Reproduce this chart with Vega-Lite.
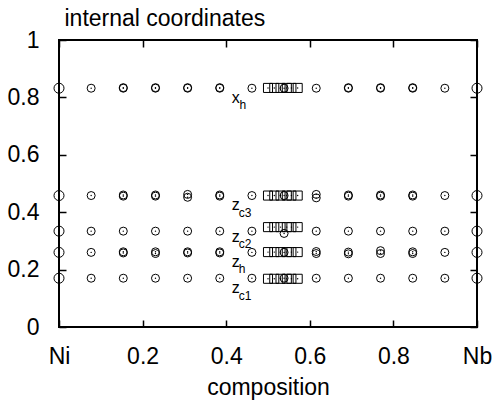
{
  "$schema": "https://vega.github.io/schema/vega-lite/v6.json",
  "width": 418,
  "height": 287,
  "autosize": {"type": "none"},
  "padding": {"left": 59, "top": 40, "right": 17, "bottom": 78},
  "background": "white",
  "config": {
    "view": {"stroke": "black", "strokeWidth": 2},
    "font": "Liberation Sans",
    "axis": {"grid": false, "domain": false, "tickColor": "black", "tickWidth": 1.5, "labelColor": "black", "titleColor": "black", "titleFontWeight": "normal", "labelOverlap": false}
  },
  "datasets": {
    "pts": [
      {"c": 0, "v": 0.832, "s": "end"}, {"c": 1, "v": 0.832, "s": "end"},
      {"c": 0, "v": 0.458, "s": "end"}, {"c": 1, "v": 0.458, "s": "end"},
      {"c": 0, "v": 0.334, "s": "end"}, {"c": 1, "v": 0.334, "s": "end"},
      {"c": 0, "v": 0.260, "s": "end"}, {"c": 1, "v": 0.260, "s": "end"},
      {"c": 0, "v": 0.170, "s": "end"}, {"c": 1, "v": 0.170, "s": "end"},

      {"c": 0.0769, "v": 0.832, "s": "circle"}, {"c": 0.1538, "v": 0.832, "s": "circle"}, {"c": 0.1538, "v": 0.834, "s": "circle"},
      {"c": 0.2308, "v": 0.832, "s": "circle"}, {"c": 0.2308, "v": 0.834, "s": "circle"},
      {"c": 0.3077, "v": 0.832, "s": "circle"}, {"c": 0.3077, "v": 0.834, "s": "circle"},
      {"c": 0.3846, "v": 0.832, "s": "circle"}, {"c": 0.3846, "v": 0.834, "s": "circle"},
      {"c": 0.4615, "v": 0.832, "s": "circle"}, {"c": 0.5385, "v": 0.832, "s": "circle"},
      {"c": 0.6154, "v": 0.832, "s": "circle"}, {"c": 0.6923, "v": 0.832, "s": "circle"}, {"c": 0.6923, "v": 0.834, "s": "circle"},
      {"c": 0.7692, "v": 0.832, "s": "circle"}, {"c": 0.7692, "v": 0.834, "s": "circle"},
      {"c": 0.8462, "v": 0.832, "s": "circle"}, {"c": 0.8462, "v": 0.834, "s": "circle"},
      {"c": 0.9231, "v": 0.832, "s": "circle"},

      {"c": 0.0769, "v": 0.458, "s": "circle"}, {"c": 0.1538, "v": 0.456, "s": "circle"}, {"c": 0.1538, "v": 0.460, "s": "circle"},
      {"c": 0.2308, "v": 0.456, "s": "circle"}, {"c": 0.2308, "v": 0.460, "s": "circle"},
      {"c": 0.3077, "v": 0.452, "s": "circle"}, {"c": 0.3077, "v": 0.462, "s": "circle"},
      {"c": 0.3846, "v": 0.456, "s": "circle"}, {"c": 0.3846, "v": 0.460, "s": "circle"},
      {"c": 0.4615, "v": 0.458, "s": "circle"}, {"c": 0.5385, "v": 0.458, "s": "circle"},
      {"c": 0.6154, "v": 0.450, "s": "circle"}, {"c": 0.6154, "v": 0.462, "s": "circle"},
      {"c": 0.6923, "v": 0.456, "s": "circle"}, {"c": 0.6923, "v": 0.460, "s": "circle"},
      {"c": 0.7692, "v": 0.456, "s": "circle"}, {"c": 0.7692, "v": 0.460, "s": "circle"},
      {"c": 0.8462, "v": 0.456, "s": "circle"}, {"c": 0.8462, "v": 0.460, "s": "circle"},
      {"c": 0.9231, "v": 0.458, "s": "circle"},

      {"c": 0.0769, "v": 0.334, "s": "circle"}, {"c": 0.1538, "v": 0.334, "s": "circle"},
      {"c": 0.2308, "v": 0.334, "s": "circle"}, {"c": 0.3077, "v": 0.334, "s": "circle"},
      {"c": 0.3846, "v": 0.334, "s": "circle"}, {"c": 0.4615, "v": 0.334, "s": "circle"},
      {"c": 0.5385, "v": 0.326, "s": "circle"}, {"c": 0.6154, "v": 0.334, "s": "circle"},
      {"c": 0.6923, "v": 0.334, "s": "circle"}, {"c": 0.7692, "v": 0.334, "s": "circle"},
      {"c": 0.8462, "v": 0.334, "s": "circle"}, {"c": 0.9231, "v": 0.334, "s": "circle"},

      {"c": 0.0769, "v": 0.260, "s": "circle"}, {"c": 0.1538, "v": 0.258, "s": "circle"}, {"c": 0.1538, "v": 0.262, "s": "circle"},
      {"c": 0.2308, "v": 0.256, "s": "circle"}, {"c": 0.2308, "v": 0.262, "s": "circle"},
      {"c": 0.3077, "v": 0.258, "s": "circle"}, {"c": 0.3077, "v": 0.262, "s": "circle"},
      {"c": 0.3846, "v": 0.258, "s": "circle"}, {"c": 0.3846, "v": 0.262, "s": "circle"},
      {"c": 0.4615, "v": 0.260, "s": "circle"}, {"c": 0.5385, "v": 0.260, "s": "circle"},
      {"c": 0.6154, "v": 0.256, "s": "circle"}, {"c": 0.6154, "v": 0.263, "s": "circle"},
      {"c": 0.6923, "v": 0.255, "s": "circle"}, {"c": 0.6923, "v": 0.261, "s": "circle"},
      {"c": 0.7692, "v": 0.256, "s": "circle"}, {"c": 0.7692, "v": 0.266, "s": "circle"},
      {"c": 0.8462, "v": 0.256, "s": "circle"}, {"c": 0.8462, "v": 0.262, "s": "circle"},
      {"c": 0.9231, "v": 0.260, "s": "circle"},

      {"c": 0.0769, "v": 0.170, "s": "circle"}, {"c": 0.1538, "v": 0.170, "s": "circle"},
      {"c": 0.2308, "v": 0.170, "s": "circle"}, {"c": 0.3077, "v": 0.170, "s": "circle"},
      {"c": 0.3846, "v": 0.170, "s": "circle"}, {"c": 0.4615, "v": 0.170, "s": "circle"},
      {"c": 0.5385, "v": 0.170, "s": "circle"}, {"c": 0.6154, "v": 0.170, "s": "circle"},
      {"c": 0.6923, "v": 0.170, "s": "circle"}, {"c": 0.7692, "v": 0.170, "s": "circle"},
      {"c": 0.8462, "v": 0.170, "s": "circle"}, {"c": 0.9231, "v": 0.170, "s": "circle"},

      {"c": 0.50, "v": 0.833, "s": "square"}, {"c": 0.515, "v": 0.833, "s": "square"}, {"c": 0.53, "v": 0.833, "s": "square"},
      {"c": 0.545, "v": 0.833, "s": "square"}, {"c": 0.556, "v": 0.833, "s": "square"}, {"c": 0.571, "v": 0.833, "s": "square"},
      {"c": 0.50, "v": 0.458, "s": "square"}, {"c": 0.515, "v": 0.458, "s": "square"}, {"c": 0.53, "v": 0.458, "s": "square"},
      {"c": 0.545, "v": 0.458, "s": "square"}, {"c": 0.556, "v": 0.458, "s": "square"}, {"c": 0.571, "v": 0.458, "s": "square"},
      {"c": 0.50, "v": 0.348, "s": "square"}, {"c": 0.515, "v": 0.348, "s": "square"}, {"c": 0.53, "v": 0.348, "s": "square"},
      {"c": 0.545, "v": 0.348, "s": "square"}, {"c": 0.556, "v": 0.348, "s": "square"}, {"c": 0.571, "v": 0.348, "s": "square"},
      {"c": 0.50, "v": 0.261, "s": "square"}, {"c": 0.515, "v": 0.261, "s": "square"}, {"c": 0.53, "v": 0.261, "s": "square"},
      {"c": 0.545, "v": 0.261, "s": "square"}, {"c": 0.556, "v": 0.261, "s": "square"}, {"c": 0.571, "v": 0.261, "s": "square"},
      {"c": 0.50, "v": 0.168, "s": "square"}, {"c": 0.515, "v": 0.168, "s": "square"}, {"c": 0.53, "v": 0.168, "s": "square"},
      {"c": 0.545, "v": 0.168, "s": "square"}, {"c": 0.556, "v": 0.168, "s": "square"}, {"c": 0.571, "v": 0.168, "s": "square"}
    ],
    "labels": [
      {"c": 0.413, "v": 0.782, "t": "x", "k": "main"},
      {"c": 0.432, "v": 0.761, "t": "h", "k": "sub"},
      {"c": 0.413, "v": 0.406, "t": "z", "k": "main"},
      {"c": 0.430, "v": 0.382, "t": "c3", "k": "sub"},
      {"c": 0.413, "v": 0.295, "t": "z", "k": "main"},
      {"c": 0.430, "v": 0.274, "t": "c2", "k": "sub"},
      {"c": 0.413, "v": 0.208, "t": "z", "k": "main"},
      {"c": 0.430, "v": 0.187, "t": "h", "k": "sub"},
      {"c": 0.413, "v": 0.117, "t": "z", "k": "main"},
      {"c": 0.430, "v": 0.093, "t": "c1", "k": "sub"}
    ]
  },
  "layer": [
    {
      "data": {"name": "pts"},
      "mark": {"type": "point", "filled": false, "stroke": "black", "strokeWidth": 1, "opacity": 1},
      "encoding": {
        "x": {"field": "c", "type": "quantitative", "scale": {"domain": [0, 1], "nice": false, "zero": false},
          "axis": {"orient": "bottom", "values": [0, 0.2, 0.4, 0.6, 0.8, 1], "format": "~g", "tickSize": -7, "labelPadding": 25, "labelFontSize": 23, "labelFlush": false, "labelBaseline": "top",
            "labelExpr": "datum.value == 0 ? 'Ni' : datum.value == 1 ? 'Nb' : datum.label",
            "title": "composition", "titleFontSize": 23, "titleAnchor": null, "titleAlign": "center", "titleBaseline": "alphabetic", "titleX": 209, "titleY": 67}},
        "y": {"field": "v", "type": "quantitative", "scale": {"domain": [0, 1], "nice": false, "zero": false},
          "axis": {"orient": "left", "values": [0, 0.2, 0.4, 0.6, 0.8, 1], "format": "~g", "tickSize": -7, "labelPadding": 27, "labelFontSize": 23, "labelFlush": false,
            "title": "internal coordinates", "titleFontSize": 23, "titleAngle": 0, "titleAnchor": null, "titleAlign": "left", "titleBaseline": "alphabetic", "titleX": 5, "titleY": -15}},
        "shape": {"field": "s", "type": "nominal", "scale": {"domain": ["circle", "square", "end"], "range": ["circle", "square", "circle"]}, "legend": null},
        "size": {"field": "s", "type": "nominal", "scale": {"domain": ["circle", "square", "end"], "range": [64, 100, 130]}, "legend": null}
      }
    },
    {
      "data": {"name": "pts"},
      "mark": {"type": "point", "filled": true, "color": "black", "size": 2, "opacity": 1},
      "encoding": {
        "x": {"field": "c", "type": "quantitative", "scale": {"domain": [0, 1], "nice": false, "zero": false},
          "axis": {"orient": "top", "values": [0, 0.2, 0.4, 0.6, 0.8, 1], "tickSize": -7, "labels": false, "title": null}},
        "y": {"field": "v", "type": "quantitative", "scale": {"domain": [0, 1], "nice": false, "zero": false},
          "axis": {"orient": "right", "values": [0, 0.2, 0.4, 0.6, 0.8, 1], "tickSize": -7, "labels": false, "title": null}}
      }
    },
    {
      "data": {"name": "labels"},
      "transform": [{"filter": "datum.k == 'main'"}],
      "mark": {"type": "text", "align": "left", "baseline": "alphabetic", "fill": "black", "font": "Liberation Sans", "fontSize": 16},
      "encoding": {
        "x": {"field": "c", "type": "quantitative", "axis": null},
        "y": {"field": "v", "type": "quantitative", "axis": null},
        "text": {"field": "t", "type": "nominal"}
      }
    },
    {
      "data": {"name": "labels"},
      "transform": [{"filter": "datum.k == 'sub'"}],
      "mark": {"type": "text", "align": "left", "baseline": "alphabetic", "fill": "black", "font": "Liberation Sans", "fontSize": 12},
      "encoding": {
        "x": {"field": "c", "type": "quantitative", "axis": null},
        "y": {"field": "v", "type": "quantitative", "axis": null},
        "text": {"field": "t", "type": "nominal"}
      }
    }
  ],
  "resolve": {"axis": {"x": "independent", "y": "independent"}}
}
